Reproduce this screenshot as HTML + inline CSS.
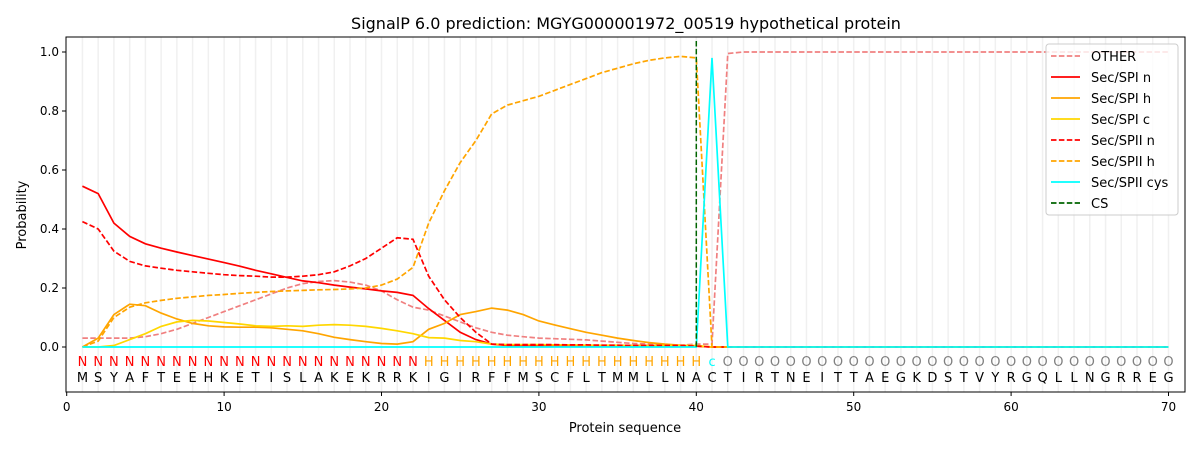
<!DOCTYPE html>
<html><head><meta charset="utf-8"><style>
body{margin:0;background:#fff}
svg{display:block;font-family:"DejaVu Sans","Liberation Sans",sans-serif}
</style></head><body>
<svg id="s" width="1200" height="450" xmlns="http://www.w3.org/2000/svg"></svg>
<script>
const s=document.getElementById('s');
const X=v=>66.7+v*15.74, Y=v=>347-v*295;
let h='';
h+='<rect width="1200" height="450" fill="#fff"/>';
for(let i=1;i<=70;i++)h+=`<line x1="${X(i)}" y1="37" x2="${X(i)}" y2="392" stroke="#f0f0f0" stroke-width="1.5"/>`;
const seq="MSYAFTEEHKETISLAKEKRRKIGIRFFMSCFLTMMLLNACTIRTNEITTAEGKDSTVYRGQLLNGRREG";
for(let i=1;i<=70;i++){
 let l,c;if(i<=22){l='N';c='#ff0000'}else if(i<=40){l='H';c='#ffa500'}else if(i==41){l='c';c='#00ffff'}else{l='O';c='#808080'}
 h+=`<text x="${X(i)}" y="366" font-size="13" fill="${c}" text-anchor="middle">${l}</text>`;
 h+=`<text x="${X(i)}" y="382" font-size="13" fill="#000" text-anchor="middle">${seq[i-1]}</text>`;
}
function tail(a,v,n){while(a.length<n)a.push(v);return a}
const other=tail([.03,.03,.03,.03,.035,.045,.06,.08,.1,.12,.14,.16,.18,.2,.215,.222,.225,.22,.21,.19,.16,.135,.125,.105,.085,.065,.05,.04,.035,.03,.028,.026,.024,.02,.016,.012,.01,.008,.006,.01,.01,.995,1],1,70);
const spin=tail([.545,.52,.42,.375,.35,.335,.322,.31,.298,.286,.274,.26,.248,.236,.224,.218,.21,.203,.197,.19,.185,.175,.13,.09,.05,.025,.01,.005,.005,.005,.005,.005,.005,.005,.005,.005,.005,.005,.005,.003],0,70);
const spih=tail([0,.03,.11,.145,.14,.115,.095,.08,.072,.068,.067,.067,.065,.06,.055,.045,.033,.025,.018,.012,.01,.018,.06,.08,.11,.12,.132,.125,.11,.088,.075,.062,.05,.04,.03,.022,.015,.01,.006,.003],0,70);
const spic=tail([0,0,.005,.025,.045,.07,.085,.09,.088,.083,.078,.072,.07,.072,.07,.074,.076,.074,.07,.063,.055,.045,.032,.03,.022,.018,.01,.008,.008,.008,.007,.007,.006,.006,.006,.005,.005,.005,.005,.005],0,70);
const spiin=tail([.425,.4,.325,.29,.275,.267,.26,.255,.25,.245,.242,.24,.237,.237,.24,.245,.255,.275,.3,.335,.37,.365,.24,.16,.1,.05,.01,.008,.008,.008,.008,.007,.007,.006,.006,.005,.005,.005,.005,.003],0,70);
const spiih=tail([0,.02,.1,.135,.15,.158,.165,.17,.175,.178,.182,.185,.188,.19,.192,.194,.195,.197,.2,.21,.23,.27,.42,.53,.625,.7,.79,.82,.835,.85,.87,.89,.91,.93,.945,.96,.972,.98,.985,.98,0],0,70);
const cys=tail(new Array(40).fill(0).concat([.98]),0,70);
function line(d,c,dash){let p=d.map((v,i)=>`${X(i+1).toFixed(1)},${Y(v).toFixed(1)}`).join(' ');
 h+=`<polyline points="${p}" fill="none" stroke="${c}" stroke-width="1.7" ${dash?'stroke-dasharray="5.5,2.4"':''}/>`}
line(other,'#f08080',1);line(spin,'#ff0000');line(spih,'#ffa500');line(spic,'#ffd700');
line(spiin,'#ff0000',1);line(spiih,'#ffa500',1);line(cys,'#00ffff');
h+=`<line x1="${X(40)}" y1="41" x2="${X(40)}" y2="347" stroke="#006400" stroke-width="1.5" stroke-dasharray="5.5,2.4"/>`;
h+='<rect x="66" y="37" width="1119" height="355" fill="none" stroke="#000" stroke-width="1"/>';
for(let t=0;t<=70;t+=10){h+=`<line x1="${X(t)}" y1="392" x2="${X(t)}" y2="396" stroke="#000"/><text x="${X(t)}" y="411" font-size="12" text-anchor="middle">${t}</text>`}
for(let k=0;k<=5;k++){let v=k*.2,y=Y(v);h+=`<line x1="62" y1="${y}" x2="66" y2="${y}" stroke="#000"/><text x="59" y="${y+4}" font-size="12" text-anchor="end">${v.toFixed(1)}</text>`}
h+='<text x="625" y="432" font-size="13" text-anchor="middle">Protein sequence</text>';
h+='<text x="26" y="215" font-size="13" text-anchor="middle" transform="rotate(-90 26 215)">Probability</text>';
h+='<text x="626" y="29" font-size="16" text-anchor="middle">SignalP 6.0 prediction: MGYG000001972_00519 hypothetical protein</text>';
h+='<rect x="1046" y="44" width="132" height="171" rx="3" fill="#fff" fill-opacity="0.8" stroke="#ccc"/>';
const lg=[['OTHER','#f08080',1],['Sec/SPI n','#ff0000'],['Sec/SPI h','#ffa500'],['Sec/SPI c','#ffd700'],['Sec/SPII n','#ff0000',1],['Sec/SPII h','#ffa500',1],['Sec/SPII cys','#00ffff'],['CS','#006400',1]];
lg.forEach((e,i)=>{let y=56+i*21;h+=`<line x1="1051" y1="${y}" x2="1080" y2="${y}" stroke="${e[1]}" stroke-width="1.7" ${e[2]?'stroke-dasharray="5.5,2.4"':''}/><text x="1091" y="${y+5}" font-size="13">${e[0]}</text>`});
s.innerHTML=h;
</script>
</body></html>
